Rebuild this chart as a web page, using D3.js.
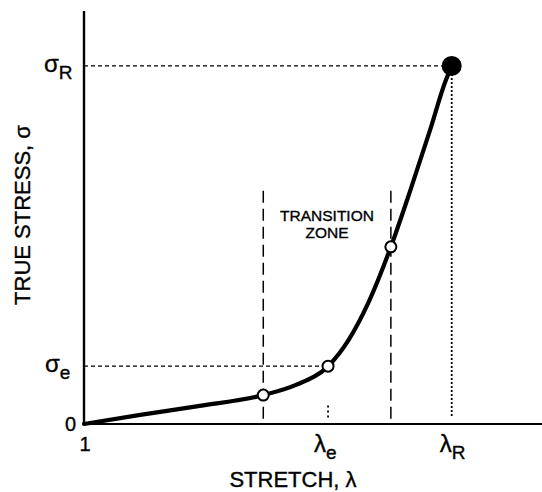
<!DOCTYPE html>
<html>
<head>
<meta charset="utf-8">
<script src="https://cdn.jsdelivr.net/npm/d3@7"></script>
<style>
  body { margin: 0; background: #fff; }
  text { font-family: "Liberation Sans", Arial, sans-serif; fill: #000; stroke: #000; stroke-width: 0.35; }
</style>
</head>
<body>
<svg width="542" height="492"></svg>
<script>
// stretch (lambda) vs true stress (sigma), arbitrary units
const curveLambda = [1, 1.86, 2.77, 3.74, 4.23, 4.73, 5.05, 5.35, 5.69, 5.98, 6.29, 6.52, 6.62];
const curveSigma  = [0, 2.2, 4.4, 7.0, 9.4, 14.0, 20.5, 29.5, 42.9, 56.2, 71.2, 82.8, 86.7];

const openLambda = [3.74, 4.73, 5.69];
const openSigma  = [7.0, 14.0, 42.9];

const lambdaE = 4.73, sigmaE = 14.0;
const lambdaR = 6.62, sigmaR = 86.7;
const zoneLambda = [3.74, 5.69];
const zoneTop = 56.5;
const zoneLines = ["TRANSITION", "ZONE"];

const svg = d3.select("svg");

const x = d3.scaleLinear().domain([1, 8]).range([84, 542]);
const y = d3.scaleLinear().domain([0, 100]).range([424, 11]);

// guide lines
svg.append("line")
  .attr("x1", x(1)).attr("x2", x(lambdaR))
  .attr("y1", y(sigmaR)).attr("y2", y(sigmaR))
  .attr("stroke", "#000").attr("stroke-width", 1.3)
  .attr("stroke-dasharray", "4,3");

svg.append("line")
  .attr("x1", x(1)).attr("x2", x(lambdaE))
  .attr("y1", y(sigmaE)).attr("y2", y(sigmaE))
  .attr("stroke", "#000").attr("stroke-width", 1.3)
  .attr("stroke-dasharray", "4,3");

svg.append("line")
  .attr("x1", x(lambdaR)).attr("x2", x(lambdaR))
  .attr("y1", y(sigmaR)).attr("y2", y(1.5))
  .attr("stroke", "#000").attr("stroke-width", 1.8)
  .attr("stroke-dasharray", "2,2");

svg.append("line")
  .attr("x1", x(lambdaE)).attr("x2", x(lambdaE))
  .attr("y1", y(4.5)).attr("y2", y(1))
  .attr("stroke", "#000").attr("stroke-width", 1.8)
  .attr("stroke-dasharray", "2,3");

svg.selectAll(".zone")
  .data(zoneLambda)
  .enter()
  .append("line")
  .attr("class", "zone")
  .attr("x1", d => x(d)).attr("x2", d => x(d))
  .attr("y1", y(zoneTop)).attr("y2", y(0))
  .attr("stroke", "#000").attr("stroke-width", 1.5)
  .attr("stroke-dasharray", "12,6");

// axes
svg.append("line")
  .attr("x1", x(1)).attr("x2", x(1))
  .attr("y1", y(100)).attr("y2", y(0))
  .attr("stroke", "#000").attr("stroke-width", 2.4);
svg.append("line")
  .attr("x1", x(1)).attr("x2", x(8))
  .attr("y1", y(0)).attr("y2", y(0))
  .attr("stroke", "#000").attr("stroke-width", 2);

// the curve
const pts = curveLambda.map((d, i) => [d, curveSigma[i]]);
const line = d3.line()
  .x(d => x(d[0]))
  .y(d => y(d[1]))
  .curve(d3.curveMonotoneX);

svg.append("path")
  .attr("d", line(pts))
  .attr("fill", "none")
  .attr("stroke", "#000")
  .attr("stroke-width", 4.2)
  .attr("stroke-linecap", "round");

svg.selectAll(".open")
  .data(openLambda)
  .enter()
  .append("circle")
  .attr("class", "open")
  .attr("cx", d => x(d))
  .attr("cy", (d, i) => y(openSigma[i]))
  .attr("r", 5.5)
  .attr("fill", "#fff")
  .attr("stroke", "#000")
  .attr("stroke-width", 2);

svg.append("circle")
  .attr("cx", x(lambdaR)).attr("cy", y(sigmaR))
  .attr("r", 10).attr("fill", "#000");

// labels
function sub(tx, ty, main, s) {
  const t = svg.append("text")
    .attr("x", tx).attr("y", ty)
    .attr("font-size", 24);
  t.append("tspan").text(main);
  t.append("tspan").attr("dy", 7).attr("font-size", 19).text(s);
  return t;
}

sub(44, y(sigmaR) + 6, "σ", "R");
sub(45, y(sigmaE) + 6, "σ", "e");
sub(x(lambdaE) - 14, 452, "λ", "e");
sub(x(lambdaR) - 12, 452, "λ", "R");

svg.append("text")
  .attr("x", 76).attr("y", y(0) + 7)
  .attr("text-anchor", "end")
  .attr("font-size", 20)
  .text("0");
svg.append("text")
  .attr("x", x(1) + 1).attr("y", 451)
  .attr("text-anchor", "middle")
  .attr("font-size", 20)
  .text("1");

svg.append("text")
  .attr("x", 293).attr("y", 487)
  .attr("text-anchor", "middle")
  .attr("font-size", 22)
  .text("STRETCH, λ");

svg.append("text")
  .attr("transform", "translate(30,215) rotate(-90)")
  .attr("text-anchor", "middle")
  .attr("font-size", 22)
  .text("TRUE STRESS, σ");

svg.selectAll(".zlabel")
  .data(zoneLines)
  .enter()
  .append("text")
  .attr("class", "zlabel")
  .attr("x", 327)
  .attr("y", (d, i) => 221 + i * 17)
  .attr("text-anchor", "middle")
  .attr("font-size", 15.5)
  .text(d => d);
</script>
</body>
</html>
